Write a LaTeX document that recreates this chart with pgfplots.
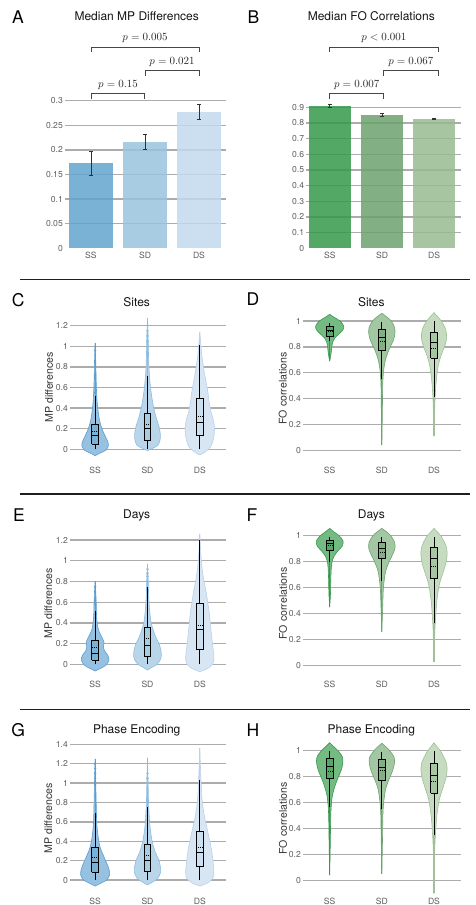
\documentclass[border=0pt]{standalone}
\usepackage[no-math]{fontspec}
\setmainfont{TeX Gyre Heros}
\usepackage{pgfplots}
\pgfplotsset{compat=1.18}
\usepackage{pgfplotstable}

\definecolor{gridc}{RGB}{172,172,172}
\definecolor{tickc}{RGB}{95,95,95}
\definecolor{labc}{RGB}{55,55,55}
\definecolor{titc}{RGB}{20,20,20}
\definecolor{errc}{RGB}{50,50,50}
\definecolor{brc}{RGB}{70,70,70}
\definecolor{bbar1}{RGB}{122,178,214}
\definecolor{bbar2}{RGB}{168,205,227}
\definecolor{bbar3}{RGB}{204,223,240}
\definecolor{bbo1}{RGB}{99,164,207}
\definecolor{bbo2}{RGB}{153,196,222}
\definecolor{bbo3}{RGB}{195,217,237}
\definecolor{bvf1}{RGB}{150,193,224}
\definecolor{bvl1}{RGB}{92,158,208}
\definecolor{bvf2}{RGB}{185,213,234}
\definecolor{bvl2}{RGB}{140,189,224}
\definecolor{bvf3}{RGB}{216,229,243}
\definecolor{bvl3}{RGB}{186,209,234}
\definecolor{gbar1}{RGB}{83,168,102}
\definecolor{gbar2}{RGB}{130,176,133}
\definecolor{gbar3}{RGB}{168,197,161}
\definecolor{gbo1}{RGB}{53,153,75}
\definecolor{gbo2}{RGB}{108,162,111}
\definecolor{gbo3}{RGB}{153,187,144}
\definecolor{gvf1}{RGB}{115,187,130}
\definecolor{gvl1}{RGB}{55,152,78}
\definecolor{gvf2}{RGB}{163,199,162}
\definecolor{gvl2}{RGB}{108,163,112}
\definecolor{gvf3}{RGB}{198,219,192}
\definecolor{gvl3}{RGB}{158,193,152}

% violin half-width profiles: y, half width (axis units)
\pgfplotstableread{
y w
-0.062 0
-0.04 0.08
-0.01 0.2
0.03 0.25
0.07 0.245
0.12 0.2
0.2 0.13
0.28 0.085
0.36 0.06
0.45 0.04
0.55 0.028
0.7 0.018
0.85 0.012
1.03 0
}\tCa
\pgfplotstableread{
y w
-0.012 0
0.01 0.1
0.04 0.2
0.09 0.24
0.15 0.245
0.22 0.22
0.3 0.17
0.4 0.12
0.5 0.085
0.6 0.058
0.7 0.04
0.8 0.028
0.95 0.018
1.1 0.012
1.27 0
}\tCb
\pgfplotstableread{
y w
-0.055 0
-0.03 0.09
0.02 0.2
0.1 0.26
0.19 0.28
0.28 0.26
0.35 0.22
0.45 0.18
0.55 0.155
0.65 0.12
0.75 0.085
0.85 0.055
0.95 0.03
1.05 0.015
1.14 0
}\tCc
\pgfplotstableread{
y w
0.69 0
0.72 0.015
0.76 0.03
0.8 0.04
0.84 0.06
0.87 0.1
0.9 0.18
0.93 0.25
0.96 0.27
1.0 0.2
1.03 0.08
1.052 0
}\tDa
\pgfplotstableread{
y w
0.04 0
0.3 0.01
0.5 0.016
0.6 0.03
0.65 0.045
0.7 0.07
0.75 0.11
0.8 0.16
0.85 0.22
0.9 0.25
0.95 0.245
1.0 0.18
1.03 0.1
1.06 0
}\tDb
\pgfplotstableread{
y w
0.11 0
0.3 0.012
0.4 0.02
0.5 0.035
0.6 0.06
0.65 0.08
0.7 0.11
0.75 0.15
0.8 0.2
0.85 0.235
0.9 0.24
0.95 0.21
1.0 0.14
1.03 0.08
1.065 0
}\tDc
\pgfplotstableread{
y w
-0.064 0
-0.04 0.1
-0.01 0.2
0.04 0.265
0.09 0.24
0.13 0.18
0.17 0.16
0.21 0.17
0.25 0.14
0.3 0.09
0.35 0.055
0.42 0.035
0.5 0.025
0.6 0.02
0.7 0.012
0.8 0
}\tEa
\pgfplotstableread{
y w
-0.055 0
-0.03 0.08
0.0 0.18
0.05 0.25
0.1 0.265
0.15 0.25
0.2 0.22
0.25 0.17
0.3 0.13
0.35 0.1
0.4 0.07
0.5 0.045
0.6 0.03
0.7 0.02
0.8 0.015
0.97 0
}\tEb
\pgfplotstableread{
y w
-0.07 0
-0.04 0.15
0.0 0.24
0.05 0.27
0.12 0.26
0.2 0.24
0.3 0.22
0.4 0.2
0.5 0.18
0.6 0.15
0.7 0.12
0.8 0.08
0.9 0.05
1.0 0.03
1.1 0.015
1.26 0
}\tEc
\pgfplotstableread{
y w
0.45 0
0.55 0.015
0.65 0.02
0.75 0.03
0.8 0.045
0.84 0.08
0.88 0.15
0.92 0.24
0.96 0.255
1.0 0.18
1.03 0.08
1.056 0
}\tFa
\pgfplotstableread{
y w
0.26 0
0.4 0.012
0.5 0.02
0.6 0.03
0.7 0.06
0.75 0.09
0.8 0.14
0.85 0.2
0.9 0.25
0.95 0.245
1.0 0.17
1.03 0.09
1.056 0
}\tFb
\pgfplotstableread{
y w
0.03 0
0.2 0.012
0.3 0.02
0.4 0.035
0.5 0.055
0.6 0.09
0.65 0.12
0.7 0.16
0.75 0.2
0.8 0.235
0.85 0.25
0.9 0.245
0.95 0.2
1.0 0.13
1.03 0.06
1.056 0
}\tFc
\pgfplotstableread{
y w
-0.062 0
-0.03 0.12
0.0 0.22
0.05 0.275
0.1 0.27
0.15 0.24
0.2 0.2
0.25 0.16
0.3 0.12
0.35 0.09
0.4 0.07
0.5 0.045
0.6 0.03
0.8 0.02
1.0 0.012
1.25 0
}\tGa
\pgfplotstableread{
y w
-0.05 0
-0.02 0.1
0.02 0.2
0.08 0.25
0.14 0.245
0.2 0.22
0.25 0.18
0.3 0.14
0.4 0.09
0.5 0.06
0.6 0.04
0.7 0.03
0.8 0.02
1.0 0.012
1.26 0
}\tGb
\pgfplotstableread{
y w
-0.062 0
-0.03 0.15
0.02 0.25
0.08 0.27
0.15 0.26
0.25 0.24
0.35 0.21
0.45 0.17
0.55 0.13
0.65 0.09
0.75 0.06
0.85 0.04
1.0 0.025
1.2 0.01
1.36 0
}\tGc
\pgfplotstableread{
y w
0.04 0
0.3 0.012
0.5 0.02
0.6 0.035
0.65 0.05
0.7 0.08
0.75 0.12
0.8 0.17
0.85 0.22
0.9 0.25
0.95 0.245
1.0 0.16
1.03 0.08
1.062 0
}\tHa
\pgfplotstableread{
y w
0.05 0
0.3 0.012
0.5 0.02
0.6 0.035
0.7 0.07
0.75 0.11
0.8 0.16
0.85 0.21
0.9 0.24
0.95 0.235
1.0 0.15
1.03 0.08
1.057 0
}\tHb
\pgfplotstableread{
y w
-0.1 0
0.2 0.012
0.3 0.02
0.4 0.035
0.5 0.055
0.6 0.09
0.65 0.12
0.7 0.16
0.75 0.2
0.8 0.235
0.85 0.25
0.9 0.24
0.95 0.19
1.0 0.12
1.03 0.06
1.062 0
}\tHc

\newcommand{\violin}[4]{%
 \addplot[fill=#3, draw=none, smooth, forget plot] table[x expr={#1-\thisrow{w}}, y=y] {#2};
 \addplot[fill=#3, draw=none, smooth, forget plot] table[x expr={#1+\thisrow{w}}, y=y] {#2};
 \addplot[draw=#3, line width=1pt, forget plot] table[x expr={#1}, y=y] {#2};
 \addplot[draw=#4, line width=0.6pt, smooth, forget plot] table[x expr={#1-\thisrow{w}}, y=y] {#2};
 \addplot[draw=#4, line width=0.6pt, smooth, forget plot] table[x expr={#1+\thisrow{w}}, y=y] {#2};
}
\newcommand{\outl}[4]{%
 \addplot[draw=#4, line width=1.2pt, forget plot] coordinates {(#1,#2) (#1,#3)};
}
\newcommand{\bx}[8]{%
 \pgfmathsetmacro\xa{#1-0.065}\pgfmathsetmacro\xb{#1+0.065}%
 \addplot[black, line width=0.8pt, forget plot] coordinates {(#1,#2) (#1,#3)};
 \addplot[black, line width=0.8pt, forget plot] coordinates {(#1,#6) (#1,#7)};
 \addplot[fill=#8, draw=black, line width=0.8pt, line join=miter, forget plot] coordinates {(\xa,#3) (\xb,#3) (\xb,#6) (\xa,#6) (\xa,#3)};
 \addplot[black, line width=0.7pt, forget plot] coordinates {(\xa,#4) (\xb,#4)};
 \addplot[black, line width=0.45pt, dash pattern=on 1pt off 1pt, forget plot] coordinates {(\xa,#5) (\xb,#5)};
}

\pgfplotsset{
 panel/.style={
  scale only axis, clip=false,
  axis line style={draw=none}, major tick length=0pt,
  ymajorgrids, major grid style={line width=1.4pt, gridc},
  xtick={0,1,2}, xticklabels={SS,SD,DS},
  tick label style={font=\fontsize{8.6}{10}\selectfont, text=tickc},
  yticklabel style={anchor=east, inner sep=0pt, xshift=-2pt, /pgf/number format/fixed, /pgf/number format/precision=2, /pgf/number format/assume math mode=true},
  xticklabel style={anchor=center, inner sep=0pt},
  /pgf/number format/assume math mode=true,
 },
 lpanel/.style={panel, width=156pt, xmin=-0.48, xmax=2.5},
 rpanel/.style={panel, width=157.7pt, xmin=-0.512, xmax=2.512, ymin=-0.12, ymax=1.1, ytick={0,0.2,0.4,0.6,0.8,1}},
 barp/.style={ybar, bar width=0.8, bar shift=0pt, draw=none, fill opacity=0.85},
}

\begin{document}
\begin{tikzpicture}
\path[use as bounding box] (0,0) rectangle (476pt,-905pt);

% ---------------- A
\begin{axis}[panel, at={(65pt,-248.3pt)}, anchor=south west, width=161pt, height=147.6pt,
  xmin=-0.481, xmax=2.5, ymin=0, ymax=0.3,
  ytick={0.05,0.1,0.15,0.2,0.25,0.3}, extra y ticks={0}, extra y tick style={grid=none},
  xticklabel style={yshift=-7.4pt}]
 \addplot[barp, fill=bbo1] coordinates {(0,0.173)};
 \addplot[barp, fill=bbo2] coordinates {(1,0.216)};
 \addplot[barp, fill=bbo3] coordinates {(2,0.277)};
 \addplot[errc, line width=0.8pt, mark=-, mark size=2pt] coordinates {(0,0.148) (0,0.196)};
 \addplot[errc, line width=0.8pt, mark=-, mark size=2pt] coordinates {(1,0.202) (1,0.232)};
 \addplot[errc, line width=0.8pt, mark=-, mark size=2pt] coordinates {(2,0.261) (2,0.293)};
\end{axis}

% ---------------- B
\begin{axis}[panel, at={(306.3pt,-248.3pt)}, anchor=south west, width=154.4pt, height=141pt,
  xmin=-0.45, xmax=2.508, ymin=0, ymax=0.9,
  ytick={0.1,0.2,0.3,0.4,0.5,0.6,0.7,0.8,0.9}, extra y ticks={0}, extra y tick style={grid=none},
  xticklabel style={yshift=-7.4pt}]
 \addplot[barp, fill=gbo1] coordinates {(0,0.908)};
 \addplot[barp, fill=gbo2] coordinates {(1,0.851)};
 \addplot[barp, fill=gbo3] coordinates {(2,0.825)};
 \addplot[errc, line width=0.8pt, mark=-, mark size=2pt] coordinates {(0,0.902) (0,0.916)};
 \addplot[errc, line width=0.8pt, mark=-, mark size=2pt] coordinates {(1,0.840) (1,0.862)};
 \addplot[errc, line width=0.8pt, mark=-, mark size=2pt] coordinates {(2,0.823) (2,0.827)};
\end{axis}

% ---------------- C
\begin{axis}[lpanel, at={(70pt,-459.6pt)}, anchor=south west, height=144.2pt,
  ymin=-0.1, ymax=1.3, ytick={0,0.2,0.4,0.6,0.8,1,1.2}, xticklabel style={yshift=-11.1pt}]
 \violin{0}{\tCa}{bvf1}{bvl1}
 \outl{0}{0.52}{1.03}{bvl1}
 \addplot[only marks, mark=*, mark size=1pt, bvl1, forget plot] coordinates {(0,0.55)(0,0.6)(0,0.68)(0,0.7)(0,0.72)(0,0.96)};
 \bx{0}{0}{0.052}{0.133}{0.178}{0.246}{0.517}{bbar1}
 \violin{1}{\tCb}{bvf2}{bvl2}
 \outl{1}{0.71}{1.27}{bvl2}
 \addplot[only marks, mark=*, mark size=1pt, bvl2, forget plot] coordinates {(1,0.9)(1,1.0)(1,1.05)(1,1.1)(1,1.15)};
 \bx{1}{0}{0.09}{0.2}{0.246}{0.35}{0.71}{bbar2}
 \violin{2}{\tCc}{bvf3}{bvl3}
 \outl{2}{1.01}{1.14}{bvl3}
 \bx{2}{0}{0.136}{0.259}{0.323}{0.498}{1.01}{bbar3}
\end{axis}

% ---------------- D
\begin{axis}[rpanel, at={(303pt,-465.8pt)}, anchor=south west, height=157.7pt, xticklabel style={yshift=-4.2pt}]
 \violin{0}{\tDa}{gvf1}{gvl1}
 \outl{0}{0.69}{0.845}{gvl1}
 \bx{0}{0.845}{0.879}{0.93}{0.918}{0.956}{0.987}{gbar1}
 \violin{1}{\tDb}{gvf2}{gvl2}
 \outl{1}{0.04}{0.549}{gvl2}
 \bx{1}{0.549}{0.773}{0.874}{0.84}{0.936}{0.995}{gbar2}
 \violin{2}{\tDc}{gvf3}{gvl3}
 \outl{2}{0.11}{0.415}{gvl3}
 \bx{2}{0.415}{0.711}{0.832}{0.789}{0.912}{0.997}{gbar3}
\end{axis}

% ---------------- E
\begin{axis}[lpanel, at={(70pt,-674.7pt)}, anchor=south west, height=145pt,
  ymin=-0.1, ymax=1.3, ytick={0,0.2,0.4,0.6,0.8,1,1.2}, xticklabel style={yshift=-10pt}]
 \violin{0}{\tEa}{bvf1}{bvl1}
 \outl{0}{0.515}{0.8}{bvl1}
 \addplot[only marks, mark=*, mark size=1pt, bvl1, forget plot] coordinates {(0,0.58)(0,0.6)(0,0.62)(0,0.75)};
 \bx{0}{0}{0.039}{0.109}{0.167}{0.232}{0.515}{bbar1}
 \violin{1}{\tEb}{bvf2}{bvl2}
 \outl{1}{0.746}{0.97}{bvl2}
 \addplot[only marks, mark=*, mark size=1pt, bvl2, forget plot] coordinates {(1,0.85)(1,0.88)(1,0.92)};
 \bx{1}{0}{0.08}{0.183}{0.248}{0.354}{0.746}{bbar2}
 \violin{2}{\tEc}{bvf3}{bvl3}
 \outl{2}{1.2}{1.26}{bvl3}
 \bx{2}{0}{0.148}{0.338}{0.38}{0.586}{1.2}{bbar3}
\end{axis}

% ---------------- F
\begin{axis}[rpanel, at={(303pt,-681.3pt)}, anchor=south west, height=158.6pt, xticklabel style={yshift=-3.4pt}]
 \violin{0}{\tFa}{gvf1}{gvl1}
 \outl{0}{0.45}{0.8}{gvl1}
 \bx{0}{0.8}{0.89}{0.941}{0.928}{0.962}{0.992}{gbar1}
 \violin{1}{\tFb}{gvf2}{gvl2}
 \outl{1}{0.26}{0.654}{gvl2}
 \bx{1}{0.654}{0.826}{0.9}{0.874}{0.946}{0.992}{gbar2}
 \violin{2}{\tFc}{gvf3}{gvl3}
 \outl{2}{0.03}{0.331}{gvl3}
 \bx{2}{0.331}{0.669}{0.826}{0.767}{0.908}{0.992}{gbar3}
\end{axis}

% ---------------- G
\begin{axis}[lpanel, at={(70pt,-889.7pt)}, anchor=south west, height=145.35pt,
  ymin=-0.1, ymax=1.4, ytick={0,0.2,0.4,0.6,0.8,1,1.2,1.4}, xticklabel style={yshift=-11.3pt}]
 \violin{0}{\tGa}{bvf1}{bvl1}
 \outl{0}{0.688}{1.25}{bvl1}
 \addplot[only marks, mark=*, mark size=1pt, bvl1, forget plot] coordinates {(0,1.0)(0,1.05)(0,1.1)(0,1.15)(0,1.2)};
 \bx{0}{0}{0.083}{0.182}{0.24}{0.337}{0.688}{bbar1}
 \violin{1}{\tGb}{bvf2}{bvl2}
 \outl{1}{0.75}{1.26}{bvl2}
 \addplot[only marks, mark=*, mark size=1pt, bvl2, forget plot] coordinates {(1,1.05)(1,1.1)};
 \bx{1}{0}{0.093}{0.203}{0.258}{0.365}{0.75}{bbar2}
 \violin{2}{\tGc}{bvf3}{bvl3}
 \outl{2}{1.03}{1.36}{bvl3}
 \bx{2}{0}{0.138}{0.289}{0.337}{0.499}{1.03}{bbar3}
\end{axis}

% ---------------- H
\begin{axis}[rpanel, at={(303pt,-895.85pt)}, anchor=south west, height=158.1pt, xticklabel style={yshift=-5.2pt}]
 \violin{0}{\tHa}{gvf1}{gvl1}
 \outl{0}{0.04}{0.568}{gvl1}
 \bx{0}{0.568}{0.784}{0.882}{0.841}{0.941}{1.0}{gbar1}
 \violin{1}{\tHb}{gvf2}{gvl2}
 \outl{1}{0.05}{0.548}{gvl2}
 \bx{1}{0.548}{0.774}{0.869}{0.848}{0.933}{0.992}{gbar2}
 \violin{2}{\tHc}{gvf3}{gvl3}
 \outl{2}{-0.1}{0.35}{gvl3}
 \bx{2}{0.35}{0.671}{0.81}{0.761}{0.902}{1.0}{gbar3}
\end{axis}

% ---------------- brackets and p values
\begin{scope}[brc, line width=0.9pt]
 \draw (91pt,-99.3pt) -- (91pt,-93.7pt) -- (144.5pt,-93.7pt) -- (144.5pt,-99.3pt);
 \draw (145pt,-76pt) -- (145pt,-70.3pt) -- (199pt,-70.3pt) -- (199pt,-76pt);
 \draw (91pt,-52.3pt) -- (91pt,-47.3pt) -- (199pt,-47.3pt) -- (199pt,-52.3pt);
 \draw (329.7pt,-99.3pt) -- (329.7pt,-93.7pt) -- (383.7pt,-93.7pt) -- (383.7pt,-99.3pt);
 \draw (383.7pt,-76pt) -- (383.7pt,-70.3pt) -- (438pt,-70.3pt) -- (438pt,-76pt);
 \draw (329.7pt,-52.3pt) -- (329.7pt,-47.3pt) -- (438pt,-47.3pt) -- (438pt,-52.3pt);
\end{scope}
\begin{scope}[every node/.style={text=black!85, font=\fontsize{10.5}{12}\selectfont, inner sep=0pt}]
 \node at (118pt,-85.3pt) {$p = 0.15$};
 \node at (172pt,-62pt) {$p = 0.021$};
 \node at (145pt,-37.7pt) {$p = 0.005$};
 \node at (356.7pt,-85.3pt) {$p = 0.007$};
 \node at (410.8pt,-62pt) {$p = 0.067$};
 \node at (383.8pt,-37.7pt) {$p < 0.001$};
\end{scope}

% ---------------- titles
\begin{scope}[every node/.style={text=titc, font=\fontsize{12}{14}\selectfont}]
 \node at (136.7pt,-15.7pt) {Median MP Differences};
 \node at (371.3pt,-15.7pt) {Median FO Correlations};
 \node at (136.7pt,-301.7pt) {Sites};
 \node at (371.3pt,-301.7pt) {Sites};
 \node at (136.7pt,-515pt) {Days};
 \node at (371.3pt,-515pt) {Days};
 \node at (136.7pt,-730pt) {Phase Encoding};
 \node at (371.3pt,-730pt) {Phase Encoding};
\end{scope}

% ---------------- panel letters
\begin{scope}[every node/.style={text=black, font=\fontsize{17.5}{20}\selectfont}]
 \node at (18pt,-16.7pt) {A};
 \node at (253.5pt,-16.7pt) {B};
 \node at (18.3pt,-300pt) {C};
 \node at (253pt,-299.3pt) {D};
 \node at (19pt,-515pt) {E};
 \node at (252pt,-515pt) {F};
 \node at (18.3pt,-730pt) {G};
 \node at (253pt,-730pt) {H};
\end{scope}

% ---------------- y labels
\begin{scope}[every node/.style={text=labc, font=\fontsize{10.6}{12}\selectfont, rotate=90}]
 \node at (49pt,-387.5pt) {MP differences};
 \node at (282.7pt,-388.3pt) {FO correlations};
 \node at (48.3pt,-603.3pt) {MP differences};
 \node at (283pt,-603.3pt) {FO correlations};
 \node at (48.3pt,-818.3pt) {MP differences};
 \node at (283pt,-818.3pt) {FO correlations};
\end{scope}

% ---------------- separators
\begin{scope}[black!88, line width=1.2pt]
 \draw (19.5pt,-279.3pt) -- (470pt,-279.3pt);
 \draw (19.5pt,-494pt) -- (470pt,-494pt);
 \draw (19.5pt,-709.3pt) -- (470pt,-709.3pt);
\end{scope}
\end{tikzpicture}
\end{document}
